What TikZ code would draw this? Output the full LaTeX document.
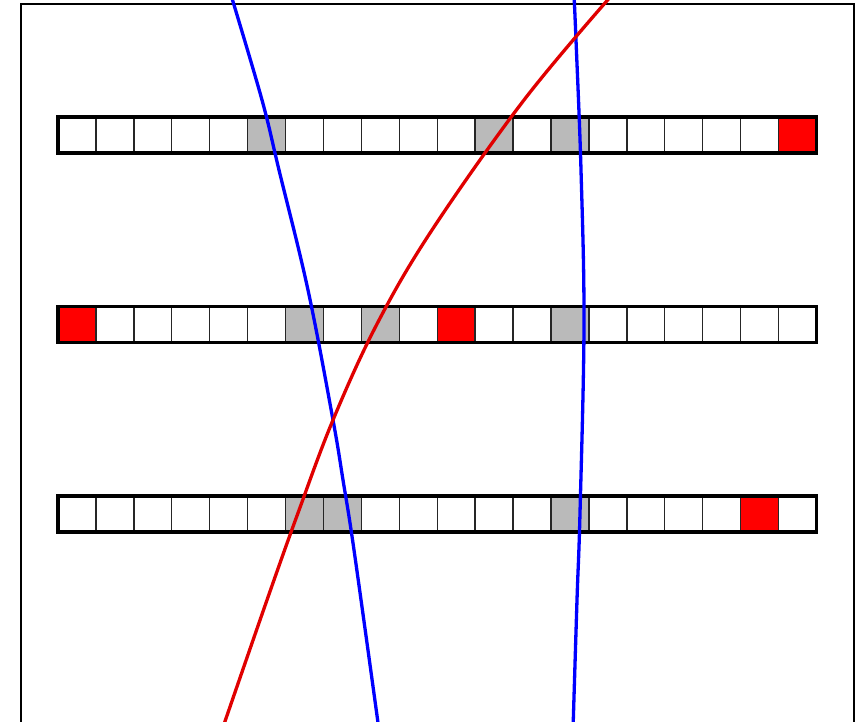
\documentclass[tikz,border=0pt]{standalone}
\begin{document}
\begin{tikzpicture}[x=1pt,y=-1pt,
  frameline/.style={line width=1.5pt,draw=black},
  cellline/.style={line width=1.4pt,draw=black!85},
  barframe/.style={line width=3.3pt,draw=black},
  graycell/.style={fill=black!27},
  redcell/.style={fill=red},
  bluecurve/.style={draw=blue,line width=3.3pt},
  redcurve/.style={draw=red!88!black,line width=3.3pt}]
\newcommand\cellrow[3]{%
  \foreach \i in {#2} {\fill[graycell] ({58+37.92*\i},#1-18) rectangle ++(37.92,36);}
  \foreach \i in {#3} {\fill[redcell] ({58+37.92*\i},#1-18) rectangle ++(37.92,36);}
  \foreach \i in {1,...,19} {\draw[cellline] ({58+37.92*\i},#1-18) -- ++(0,36);}
  \draw[barframe] (58,#1-18) rectangle (816.4,#1+18);
}
\useasboundingbox (0,0) rectangle (863,721);
\clip (0,0) rectangle (863,721);
\draw[frameline] (21,740) -- (21,4) -- (854,4) -- (854,740);
\cellrow{135}{5,11,13}{19}
\cellrow{324.5}{6,8,13}{0,10}
\cellrow{514}{6,7,13}{18}
\draw[bluecurve] plot[smooth,tension=0.6] coordinates
  {(231,-5) (262,100) (279,170) (308,290) (333,420) (343,480) (354,550) (379,730)};
\draw[bluecurve] plot[smooth,tension=0.6] coordinates
  {(574,-5) (576,40) (581,170) (584,324) (580,513) (577,600) (573,730)};
\draw[redcurve] plot[smooth,tension=0.6] coordinates
  {(612,-5) (524,100) (432,230) (377,324) (333,420) (298,513) (267,600) (222,730)};
\end{tikzpicture}
\end{document}
